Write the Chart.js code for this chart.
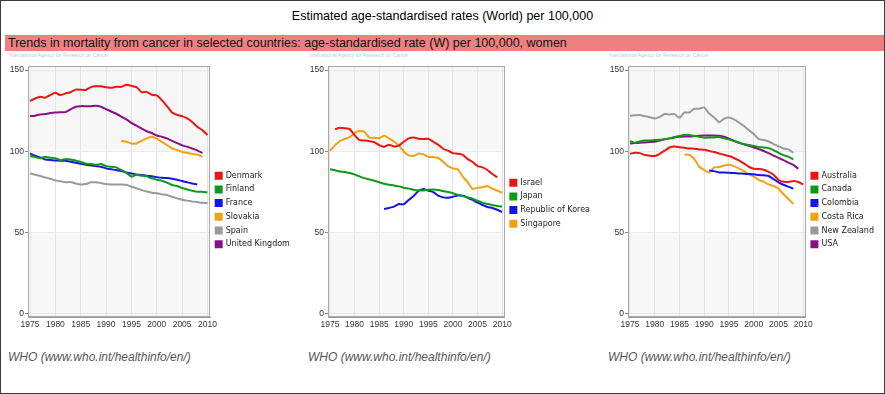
<!DOCTYPE html>
<html><head><meta charset="utf-8">
<script src="https://cdn.jsdelivr.net/npm/chart.js@4.4.1/dist/chart.umd.min.js"></script>
<style>
html,body{margin:0;padding:0;background:#fff;}
#wrap{position:relative;width:885px;height:394px;overflow:hidden;font-family:'Liberation Sans',Arial,sans-serif;background:#fff;}
#frame{position:absolute;left:0;top:0;width:885px;height:394px;box-sizing:border-box;border:1px solid #3a3a3a;pointer-events:none;}
#title{position:absolute;left:0;width:885px;top:9px;text-align:center;font-size:12.5px;color:#000;white-space:nowrap;}
#banner{position:absolute;left:5px;right:0;top:35px;height:16px;background:#f08080;font-size:12.5px;line-height:16px;padding-left:3px;color:#111;white-space:nowrap;}
.iarc{position:absolute;top:52px;font-size:5px;color:#b8cde2;white-space:nowrap;}
.who{position:absolute;top:350px;font-size:12px;font-style:italic;color:#555;white-space:nowrap;}
.panel{position:absolute;top:60px;}
</style></head>
<body>
<div id="wrap">
  <div id="title">Estimated age-standardised rates (World) per 100,000</div>
  <div id="banner">Trends in mortality from cancer in selected countries: age-standardised rate (W) per 100,000, women</div>
  <div class="iarc" style="left:9px">International Agency for Research on Cancer</div>
  <div class="iarc" style="left:309px">International Agency for Research on Cancer</div>
  <div class="iarc" style="left:609px">International Agency for Research on Cancer</div>
  <canvas id="c1" class="panel" style="left:0px" width="300" height="285"></canvas>
  <canvas id="c2" class="panel" style="left:300px" width="300" height="285"></canvas>
  <canvas id="c3" class="panel" style="left:600px" width="284" height="285"></canvas>
  <div class="who" style="left:8px">WHO (www.who.int/healthinfo/en/)</div>
  <div class="who" style="left:308px">WHO (www.who.int/healthinfo/en/)</div>
  <div class="who" style="left:608px">WHO (www.who.int/healthinfo/en/)</div>
  <div id="frame"></div>
</div>
<script>
const years = [1975,1976,1977,1978,1979,1980,1981,1982,1983,1984,1985,1986,1987,1988,1989,1990,1991,1992,1993,1994,1995,1996,1997,1998,1999,2000,2001,2002,2003,2004,2005,2006,2007,2008,2009,2010];
const xTicks = [1975,1980,1985,1990,1995,2000,2005,2010];
const yTicks = [0,50,100,150];

// Panel 1
const names1 = ['Denmark','Finland','France','Slovakia','Spain','United Kingdom'];
const denmark = [130.9,132.5,133.6,133,134.6,136,134.6,135.6,136.4,138, 137.9,137.7,139.5,140,140,139.5,139.1,139.7,139.7,141, 140.3,139.5,136.4,136.6,134.8,134.4,131.5,127.8,123.9,122.5, 121.6,120.2,118,115,113,110];
const finland = [97,96.4,95.6,96.6,96,95.6,94.5,95.1,94.9,94.3, 93.3,92.3,92.1,91.6,92.1,90.8,90.4,90,88.4,86.7, 84.3,85.5,84.9,84.5,83.2,82.4,81.8,80.6,79.1,78.5, 77.3,76.4,75.6,75,75,74.6];
const france = [98.6,97.2,96.2,94.9,94.5,94.3,94.1,94.1,93.5,92.9, 92.3,91.6,91.2,90.8,90.4,89.4,88.8,88.4,87.7,86.9, 86.3,85.7,85.3,84.9,84.5,84,83.6,83.4,83,82.4, 81.6,80.8,80.1,79.5,null,null];
const slovakia = [null,null,null,null,null,null,null,null,null,null, null,null,null,null,null,null,null,null,106.4,105.8, 104.8,104.8,106.4,107.9,108.9,107.7,105.8,103.8,101.7,100.7, 99.5,99,98.2,98,96.6,null];
const spain = [86.3,85.5,84.7,83.8,83,82,81.4,80.8,81,80.1, 79.5,79.7,80.8,80.8,80.3,79.7,79.5,79.5,79.5,79.3, 78.1,77.1,76,75.2,74.4,74,73.4,73,71.9,70.9, 70.1,69.5,69,68.6,68.2,68];
const uk = [121.6,121.9,122.7,122.9,123.5,123.9,124.1,124.1,125.8,127.4, 127.8,127.8,127.8,128,127.4,126,124.5,123.1,121.4,119.6, 117.5,115.7,114,112.3,111.2,109.7,108.9,107.9,106.4,105, 103.6,102.7,101.7,100.5,98.8,null];

// Panel 2
const names2 = ['Israel','Japan','Republic of Korea','Singapore'];
const israel = [null,113.6,114.5,114.2,113.8,109.9,106.9,106.6,106.2,105.6, 103.8,102.7,104,102.9,103.4,105.8,107.9,108.5,107.7,107.5, 107.7,105.8,104,101.5,100.3,98.8,98.4,97.8,95.1,93.3, 90.8,90,88.4,85.9,83.9,null];
const japan = [88.8,88.2,87.5,87.1,86.5,85.7,84.5,83.4,82.6,81.8, 80.8,79.9,79.3,78.9,78.3,77.5,76.9,76.2,75.8,75.8, 76.2,76.4,76,75.4,74.8,74,73,72.3,71.5,70.7, 69.5,68.2,67.4,66.8,66.2,65.8];
const korea = [null,null,null,null,null,null,null,null,null,null, null,64.3,65,65.8,67.4,67.2,69.9,72.3,75.6,76.6, 75.6,74.8,72.6,71.5,71.3,71.9,72.7,72.5,71.3,69.9, 68.2,66.8,65.6,65,63.9,62.5];
const singapore = [100.3,103.6,106.2,107.5,108.7,111.2,112.4,112,108.3,108.3, 107.9,109.7,107.9,106,103.6,99.7,97.4,97,98.6,98, 96.4,96.4,95.8,93.5,90.8,89.4,88.8,84.3,80.8,76.6, 77.5,77.7,78.5,76.9,75.6,74.4];

// Panel 3
const names3 = ['Australia','Canada','Colombia','Costa Rica','New Zealand','USA'];
const australia = [98.4,99,98.8,97.6,97.2,97,98.4,100.3,102.3,102.9, 102.5,102.1,101.7,101.5,101.1,100.9,100.1,99.5,98.6,97.8, 97,95.8,94.3,92.5,90.4,89.2,89,88.6,87.3,85.5, 82.2,81.2,81,81.6,81,79.5];
const canada = [106.2,105.2,106,106.6,106.6,106.9,107.1,107.5,107.9,108.7, 109.4,110,110,109.4,108.9,108.3,108.5,108.5,108.7,107.9, 107.3,106.2,105.4,104.4,103.8,103.2,102.5,102.3,101.9,100.7, 99,97.6,96.6,94.9,null,null];
const colombia = [null,null,null,null,null,null,null,null,null,null, null,null,null,null,null,null,88.2,87.7,86.9,86.9, 86.7,86.5,86.3,86.1,85.9,85.7,85.3,85.1,84.7,82.8, 80.8,79.3,78.1,76.9,null,null];
const costaRica = [null,null,null,null,null,null,null,null,null,null, null,98,97.8,95.1,90.4,88.4,86.7,90,90.2,91.2, 91.6,90.8,89.4,87.7,85.7,84.5,82.2,81.2,79.5,78.5, 76.9,73.6,70.5,67.4,null,null];
const newZealand = [121.9,122.1,122.3,121.6,121,120.2,121.2,122.9,122.7,122.9, 120.6,123.9,123.9,126.2,126.2,127,123.3,120.8,117.9,120, 120.8,119.6,117.7,115.5,113,110.6,107.5,106.9,106,104.4, 103,101.7,101.1,99,null,null];
const usa = [104.8,105,105.2,105.4,105.6,105.8,106.6,107.3,107.9,108.5, 108.9,109.1,109.1,109.3,109.5,109.7,109.7,109.7,109.5,108.9, 107.7,106.4,105.2,104.2,103.4,102.3,101.3,100.1,98.8,97.3, 95.9,94.5,93,91.6,89.2,null];

const RED='#ee1414', GREEN='#10981a', BLUE='#1414ee', ORANGE='#f5a014', GRAY='#9a9a9a', PURPLE='#8a108a';
const TICK_FONT = {family: "'Liberation Sans',Arial,sans-serif", size: 8.5};
const LEGEND_FONT = {family: "'DejaVu Sans',Verdana,sans-serif", size: 8};

const bandsPlugin = {
  id: 'bands',
  beforeDraw(c) {
    const {ctx, chartArea: a, scales: {y}} = c;
    const y100 = y.getPixelForValue(100), y50 = y.getPixelForValue(50);
    ctx.save();
    ctx.fillStyle = '#f7f7f7';
    ctx.fillRect(a.left, a.top, a.width, y100 - a.top);
    ctx.fillRect(a.left, y50, a.width, a.bottom - y50);
    ctx.restore();
  },
  beforeDatasetsDraw(c) {
    const {ctx, chartArea: a} = c;
    ctx.save();
    ctx.strokeStyle = '#a8a8a8';
    ctx.lineWidth = 1;
    ctx.strokeRect(Math.round(a.left) + 0.5, Math.round(a.top) + 0.5, Math.round(a.width) - 1, Math.round(a.height) - 1);
    ctx.restore();
  }
};

function makeChart(id, names, series, colors, legendOffset) {
  const chart = new Chart(document.getElementById(id), {
    type: 'line',
    data: {
      datasets: names.map((n, i) => ({
        label: n,
        data: years.map((yr, j) => ({x: yr, y: series[i][j]})),
        borderColor: colors[i],
        backgroundColor: colors[i],
        borderWidth: 2,
        pointRadius: 0,
        tension: 0.1,
        spanGaps: false
      }))
    },
    options: {
      responsive: false,
      animation: false,
      devicePixelRatio: 1,
      layout: {padding: {left: 0, top: 6, right: 0, bottom: 12}},
      scales: {
        x: {
          type: 'linear', min: 1974.6, max: 2010.5,
          afterBuildTicks: ax => { ax.ticks = xTicks.map(v => ({value: v})); },
          afterFit: s => { s.height = 16; },
          ticks: {font: TICK_FONT, color: '#333', padding: 3, maxRotation: 0, autoSkip: false, callback: v => String(v)},
          grid: {color: '#e4e4e4', drawTicks: false},
          border: {color: '#9a9a9a'}
        },
        y: {
          min: -2.3, max: 152.5,
          afterBuildTicks: ax => { ax.ticks = yTicks.map(v => ({value: v})); },
          afterFit: s => { s.width = 28; },
          ticks: {font: TICK_FONT, color: '#333', padding: 1, callback: v => String(v)},
          grid: {color: '#eaeaea', drawTicks: true, tickLength: 3, tickColor: '#888'},
          border: {color: '#9a9a9a'}
        }
      },
      plugins: {
        legend: {
          position: 'right', align: 'start', maxWidth: 160,
          title: {display: true, text: '', font: {size: 1}, padding: {top: legendOffset, bottom: 0}},
          labels: {boxWidth: 6, boxHeight: 6, padding: 5.7, color: '#222', font: LEGEND_FONT}
        },
        tooltip: {enabled: false}
      }
    },
    plugins: [bandsPlugin]
  });
  const diff = chart.chartArea.right - 210;
  chart.options.layout.padding.right = Math.max(0, diff);
  chart.update();
  return chart;
}

makeChart('c1', names1, [denmark, finland, france, slovakia, spain, uk], [RED, GREEN, BLUE, ORANGE, GRAY, PURPLE], 98.8);
makeChart('c2', names2, [israel, japan, korea, singapore], [RED, GREEN, BLUE, ORANGE], 105.8);
makeChart('c3', names3, [australia, canada, colombia, costaRica, newZealand, usa], [RED, GREEN, BLUE, ORANGE, GRAY, PURPLE], 98.8);
</script>
</body></html>
